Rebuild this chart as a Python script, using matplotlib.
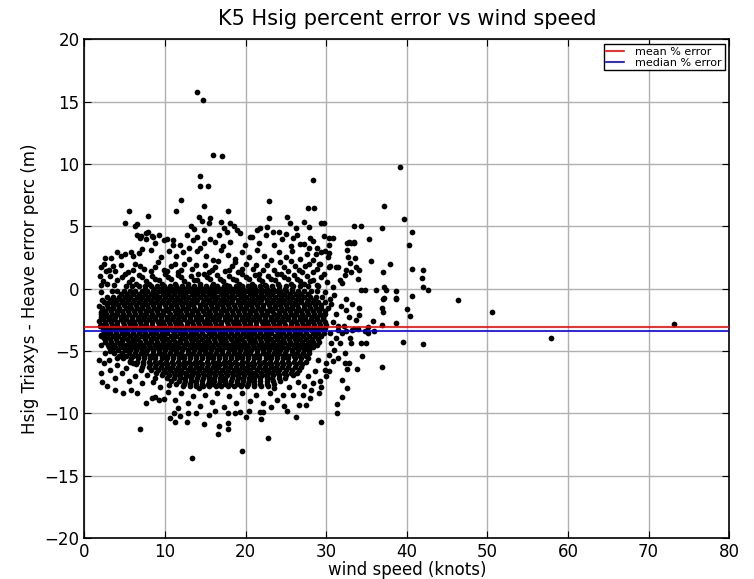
import matplotlib
matplotlib.use("Agg")
import matplotlib.pyplot as plt
import numpy as np

# summary lines
mean_err = -3.1
median_err = -3.4

# dense body of the cloud: one row per error level, wind speeds listed per row
core_rows = [
    (0.25, "5.1 5.9 6.8 7.5 8.3 9.0 9.9 10.6 11.3 12.1 12.8 13.6 14.3 15.1 15.8 16.5 17.3 18.0 18.8 19.5 20.3 21.0 21.8 22.5 23.3 24.2 25.0 25.9 26.8 27.7"),
    (0.0, "7.5 8.6 9.5 10.3 11.0 11.8 12.5 13.2 13.9 14.6 15.4 16.1 16.8 17.5 18.3 19.0 19.7 20.5 21.2 21.9 22.7 23.4 24.1 24.9 25.7"),
    (-0.2, "3.4 4.1 4.9 5.6 6.3 7.1 7.8 8.5 9.2 9.9 10.7 11.4 12.1 12.8 13.5 14.2 15.0 15.7 16.4 17.1 17.8 18.5 19.3 20.0 20.7 21.4 22.1 22.9 23.6 24.3 25.0 25.8 26.5 27.3 28.1 28.9"),
    (-0.45, "4.5 5.3 6.0 6.8 7.5 8.2 8.9 9.7 10.4 11.1 11.8 12.5 13.3 14.0 14.7 15.4 16.1 16.9 17.6 18.3 19.0 19.7 20.5 21.2 21.9 22.6 23.3 24.1 24.8 25.5 26.2 26.9 27.7"),
    (-0.65, "2.8 3.5 4.3 5.0 5.7 6.5 7.2 7.9 8.6 9.3 10.0 10.8 11.5 12.2 12.9 13.6 14.3 15.1 15.8 16.5 17.2 17.9 18.6 19.4 20.1 20.8 21.5 22.2 22.9 23.7 24.4 25.1 25.8 26.5 27.2 28.0 28.7 29.5"),
    (-0.9, "3.3 4.0 4.7 5.4 6.2 6.9 7.6 8.3 9.0 9.7 10.5 11.2 11.9 12.6 13.3 14.0 14.8 15.5 16.2 16.9 17.6 18.3 19.1 19.8 20.5 21.2 21.9 22.6 23.4 24.1 24.8 25.5 26.2 26.9 27.7 28.5"),
    (-1.1, "2.4 3.1 3.8 4.6 5.3 6.0 6.8 7.5 8.2 8.9 9.6 10.4 11.1 11.8 12.5 13.2 13.9 14.7 15.4 16.1 16.8 17.5 18.2 19.0 19.7 20.4 21.1 21.8 22.6 23.3 24.0 24.7 25.4 26.1 26.9 27.6 28.3 29.0 29.8"),
    (-1.35, "2.8 3.5 4.2 4.9 5.7 6.4 7.1 7.8 8.5 9.2 10.0 10.7 11.4 12.1 12.8 13.5 14.3 15.0 15.7 16.4 17.1 17.8 18.6 19.3 20.0 20.7 21.4 22.1 22.9 23.6 24.3 25.0 25.7 26.4 27.2 27.9 28.6 29.3"),
    (-1.55, "2.2 2.9 3.6 4.3 5.1 5.8 6.5 7.2 7.9 8.6 9.3 10.1 10.8 11.5 12.2 12.9 13.6 14.4 15.1 15.8 16.5 17.2 17.9 18.7 19.4 20.1 20.8 21.5 22.2 23.0 23.7 24.4 25.1 25.8 26.5 27.3 28.0 28.7 29.4 30.2"),
    (-1.8, "2.6 3.3 4.0 4.7 5.4 6.1 6.9 7.6 8.3 9.0 9.7 10.4 11.2 11.9 12.6 13.3 14.0 14.7 15.5 16.2 16.9 17.6 18.3 19.0 19.8 20.5 21.2 21.9 22.6 23.3 24.1 24.8 25.5 26.2 26.9 27.6 28.4 29.1 29.8"),
    (-2.0, "2.0 2.7 3.4 4.1 4.8 5.5 6.3 7.0 7.7 8.4 9.1 9.8 10.6 11.3 12.0 12.7 13.4 14.1 14.9 15.6 16.3 17.0 17.7 18.4 19.2 19.9 20.6 21.3 22.0 22.7 23.5 24.2 24.9 25.6 26.3 27.0 27.8 28.5 29.2 29.9"),
    (-2.25, "2.4 3.1 3.8 4.5 5.2 5.9 6.7 7.4 8.1 8.8 9.5 10.2 11.0 11.7 12.4 13.1 13.8 14.5 15.3 16.0 16.7 17.4 18.1 18.8 19.6 20.3 21.0 21.7 22.4 23.1 23.9 24.6 25.3 26.0 26.7 27.4 28.2 28.9 29.6"),
    (-2.45, "2.3 3.0 3.7 4.5 5.2 5.9 6.6 7.3 8.0 8.8 9.5 10.2 10.9 11.6 12.3 13.1 13.8 14.5 15.2 15.9 16.6 17.4 18.1 18.8 19.5 20.2 20.9 21.7 22.4 23.1 23.8 24.5 25.2 26.0 26.7 27.4 28.1 28.8 29.6"),
    (-2.7, "2.6 3.3 4.1 4.8 5.5 6.2 6.9 7.6 8.4 9.1 9.8 10.5 11.2 11.9 12.7 13.4 14.1 14.8 15.5 16.2 17.0 17.7 18.4 19.1 19.8 20.5 21.3 22.0 22.7 23.4 24.1 24.8 25.6 26.3 27.0 27.7 28.4 29.1 29.8"),
    (-2.9, "2.0 2.7 3.4 4.1 4.9 5.6 6.3 7.0 7.7 8.4 9.2 9.9 10.6 11.3 12.0 12.7 13.5 14.2 14.9 15.6 16.3 17.0 17.8 18.5 19.2 19.9 20.6 21.3 22.1 22.8 23.5 24.2 24.9 25.6 26.4 27.1 27.8 28.5 29.2 30.0"),
    (-3.15, "2.6 3.3 4.0 4.7 5.4 6.1 6.9 7.6 8.3 9.0 9.7 10.4 11.2 11.9 12.6 13.3 14.0 14.7 15.5 16.2 16.9 17.6 18.3 19.0 19.8 20.5 21.2 21.9 22.6 23.3 24.1 24.8 25.5 26.2 26.9 27.6 28.4 29.1 29.8"),
    (-3.35, "2.3 3.0 3.8 4.5 5.2 5.9 6.6 7.3 8.1 8.8 9.5 10.2 10.9 11.6 12.4 13.1 13.8 14.5 15.2 15.9 16.7 17.4 18.1 18.8 19.5 20.2 21.0 21.7 22.4 23.1 23.8 24.5 25.3 26.0 26.7 27.4 28.1 28.8 29.6"),
    (-3.6, "2.5 3.2 3.9 4.6 5.3 6.0 6.8 7.5 8.2 8.9 9.6 10.3 11.1 11.8 12.5 13.2 13.9 14.6 15.4 16.1 16.8 17.5 18.2 18.9 19.7 20.4 21.1 21.8 22.5 23.2 24.0 24.7 25.4 26.1 26.8 27.5 28.3 29.0 29.7"),
    (-3.8, "2.1 2.8 3.5 4.2 4.9 5.6 6.4 7.1 7.8 8.5 9.2 9.9 10.7 11.4 12.1 12.8 13.5 14.2 15.0 15.7 16.4 17.1 17.8 18.5 19.3 20.0 20.7 21.4 22.1 22.8 23.6 24.3 25.0 25.7 26.4 27.1 27.9 28.6 29.3"),
    (-4.05, "2.5 3.2 3.9 4.6 5.3 6.0 6.7 7.5 8.2 8.9 9.6 10.3 11.0 11.8 12.5 13.2 13.9 14.6 15.3 16.1 16.8 17.5 18.2 18.9 19.6 20.4 21.1 21.8 22.5 23.2 23.9 24.7 25.4 26.1 26.8 27.5 28.2 29.0"),
    (-4.25, "2.5 3.3 4.0 4.7 5.5 6.2 6.9 7.6 8.3 9.0 9.8 10.5 11.2 11.9 12.6 13.3 14.1 14.8 15.5 16.2 16.9 17.6 18.4 19.1 19.8 20.5 21.2 21.9 22.7 23.4 24.1 24.8 25.5 26.2 27.0 27.7 28.4 29.1"),
    (-4.5, "2.9 3.6 4.4 5.1 5.8 6.5 7.2 8.0 8.7 9.4 10.1 10.8 11.5 12.3 13.0 13.7 14.4 15.1 15.8 16.6 17.3 18.0 18.7 19.4 20.1 20.9 21.6 22.3 23.0 23.7 24.4 25.2 25.9 26.6 27.3 28.0 28.8"),
    (-4.7, "3.0 3.8 4.6 5.3 6.0 6.7 7.4 8.1 8.9 9.6 10.3 11.0 11.7 12.4 13.2 13.9 14.6 15.3 16.0 16.7 17.5 18.2 18.9 19.6 20.3 21.0 21.8 22.5 23.2 23.9 24.6 25.3 26.1 26.8 27.5 28.3"),
    (-4.95, "3.4 4.2 5.0 5.7 6.4 7.1 7.8 8.5 9.3 10.0 10.7 11.4 12.1 12.8 13.6 14.3 15.0 15.7 16.4 17.1 17.9 18.6 19.3 20.0 20.7 21.4 22.2 22.9 23.6 24.3 25.0 25.7 26.5 27.2 27.9"),
    (-5.15, "3.7 4.6 5.5 6.3 7.0 7.7 8.5 9.2 9.9 10.6 11.3 12.0 12.8 13.5 14.2 14.9 15.6 16.3 17.1 17.8 18.5 19.2 19.9 20.6 21.4 22.1 22.8 23.5 24.2 24.9 25.7 26.4 27.1 27.9"),
    (-5.4, "4.3 5.1 6.0 6.7 7.4 8.1 8.8 9.6 10.3 11.0 11.7 12.4 13.1 13.9 14.6 15.3 16.0 16.7 17.4 18.2 18.9 19.6 20.3 21.0 21.7 22.5 23.2 23.9 24.6 25.3 26.0 26.8 27.5"),
    (-5.6, "4.8 5.8 6.7 7.4 8.1 8.8 9.6 10.3 11.0 11.7 12.4 13.1 13.9 14.6 15.3 16.0 16.7 17.4 18.2 18.9 19.6 20.3 21.0 21.7 22.5 23.2 23.9 24.6 25.3 26.1 26.9 27.7"),
    (-5.85, "5.6 6.5 7.3 8.0 8.7 9.4 10.1 10.9 11.6 12.3 13.0 13.7 14.4 15.2 15.9 16.6 17.3 18.0 18.7 19.5 20.2 20.9 21.6 22.3 23.0 23.8 24.5 25.2 26.0 26.8 27.5"),
    (-6.05, "6.4 7.3 8.1 8.9 9.6 10.3 11.0 11.8 12.5 13.2 13.9 14.6 15.3 16.1 16.8 17.5 18.2 18.9 19.6 20.4 21.1 21.8 22.5 23.2 23.9 24.7 25.4 26.2 27.0"),
    (-6.3, "7.2 8.0 8.7 9.5 10.2 10.9 11.6 12.3 13.1 13.8 14.5 15.2 15.9 16.6 17.4 18.1 18.8 19.5 20.2 20.9 21.7 22.4 23.1 23.8 24.5 25.3 26.1 26.9"),
    (-6.5, "8.3 9.1 9.9 10.6 11.3 12.0 12.8 13.5 14.2 14.9 15.6 16.3 17.1 17.8 18.5 19.2 19.9 20.6 21.4 22.1 22.8 23.5 24.2 25.0 25.8 26.6"),
    (-6.75, "8.9 9.7 10.4 11.1 11.8 12.5 13.3 14.0 14.7 15.4 16.1 16.8 17.6 18.3 19.0 19.7 20.4 21.1 21.9 22.6 23.3 24.0 24.8 25.6 26.4"),
    (-6.95, "9.6 10.5 11.2 11.9 12.7 13.4 14.1 14.8 15.5 16.2 17.0 17.7 18.4 19.1 19.8 20.5 21.3 22.0 22.7 23.4 24.2 25.0 25.9"),
    (-7.2, "10.2 11.1 11.8 12.5 13.2 14.0 14.7 15.4 16.1 16.8 17.5 18.3 19.0 19.7 20.4 21.1 21.8 22.6 23.3 24.1 24.9"),
    (-7.4, "10.8 11.7 12.5 13.2 13.9 14.6 15.4 16.1 16.8 17.5 18.2 18.9 19.7 20.4 21.1 21.8 22.6 23.4 24.3"),
    (-7.65, "11.4 12.3 13.1 13.8 14.6 15.3 16.0 16.7 17.4 18.1 18.9 19.6 20.3 21.0 21.8 22.6 23.5"),
    (-7.85, "12.2 13.1 13.9 14.7 15.5 16.3 17.0 17.8 18.6 19.4 20.2 21.0 21.9 22.8"),
]

# scattered points above the body (wind speed, % error)
upper_pts = [
    (2.3, 0.6), (3.2, 1.0), (4.1, 0.7), (5.0, 1.2), (5.9, 0.8), (6.8, 1.1), (7.6, 0.6), (8.4, 1.0),
    (9.2, 0.7), (10.0, 1.2), (10.8, 0.8), (11.6, 1.1), (12.4, 0.6), (13.2, 1.0), (14.0, 0.7), (14.8, 1.2),
    (15.6, 0.8), (16.4, 1.1), (17.2, 0.6), (18.0, 1.0), (18.8, 0.7), (19.6, 1.2), (20.4, 0.8), (21.2, 1.1),
    (22.0, 0.6), (22.8, 1.0), (23.6, 0.7), (24.4, 1.2), (25.2, 0.8), (26.0, 1.1), (26.8, 0.6), (27.6, 1.0),
    (28.4, 0.7), (29.3, 0.9), (30.1, 0.5), (29.0, 0.2), (29.8, -0.3), (30.5, -0.8),
    (2.8, 0.4), (3.7, 0.3), (4.6, 0.9), (5.5, 0.5), (6.4, 0.4), (7.2, 0.9), (8.0, 0.4), (8.8, 0.8),
    (9.6, 0.4), (10.4, 0.9), (11.2, 0.4), (12.0, 0.9), (12.8, 0.4), (13.6, 0.7), (14.4, 0.4), (15.2, 0.9),
    (16.0, 0.4), (16.8, 0.8), (17.6, 0.3), (18.4, 0.8), (19.2, 0.4), (20.0, 0.9), (20.8, 0.4), (21.6, 0.8),
    (22.4, 0.3), (23.2, 0.8), (24.0, 0.4), (24.8, 0.9), (25.6, 0.4), (26.4, 0.8), (27.2, 0.4), (28.0, 0.6),
    (28.8, 0.3),
    (2.1, 1.7), (3.0, 1.5), (4.5, 1.9), (5.4, 1.3), (6.3, 2.0), (7.4, 1.6), (8.2, 1.4), (9.1, 2.1),
    (9.9, 1.5), (10.7, 1.8), (11.6, 1.3), (12.4, 2.0), (13.3, 1.6), (14.1, 1.2), (14.9, 1.9), (15.8, 1.5),
    (16.6, 2.2), (17.4, 1.4), (18.3, 1.8), (19.1, 1.3), (20.0, 2.0), (20.9, 1.6), (21.7, 1.2), (22.6, 1.9),
    (23.5, 1.5), (24.3, 2.1), (25.2, 1.4), (26.1, 1.8), (27.0, 1.3), (27.9, 2.0), (28.8, 1.6), (29.7, 1.2),
    (30.5, 1.8),
    (3.8, 1.4), (6.0, 1.5), (6.9, 1.8), (8.7, 1.7), (10.3, 1.4), (11.2, 2.0), (12.0, 1.5), (13.8, 1.9),
    (15.4, 1.3), (16.2, 1.7), (17.9, 1.5), (18.7, 2.1), (19.6, 1.6), (21.3, 1.9), (22.1, 1.5), (23.9, 1.2),
    (24.8, 1.7), (25.6, 2.2), (26.6, 1.5), (27.4, 1.8), (28.3, 1.3), (29.2, 2.0),
    (2.5, 2.44), (3.25, 2.44), (4.07, 2.92), (5.72, 2.97), (6.75, 2.84), (7.16, 3.16), (8.2, 3.1), (9.5, 2.5),
    (10.5, 3.0), (11.3, 2.6), (12.2, 2.9), (13.0, 2.4), (14.0, 3.0), (15.1, 2.6), (16.0, 2.3), (16.9, 3.1),
    (17.8, 2.7), (18.7, 2.4), (19.6, 2.9), (20.4, 2.5), (21.4, 3.1), (22.3, 2.6), (23.2, 2.3), (24.1, 2.9),
    (25.0, 2.5), (25.8, 3.0), (26.7, 2.4), (27.6, 2.8), (28.4, 2.3), (29.3, 2.9), (30.2, 2.5),
    (4.5, 2.6), (5.0, 2.8), (6.0, 2.6),
    (7.7, 4.5), (8.4, 4.25), (7.0, 4.25), (7.7, 4.0), (8.8, 3.64), (9.85, 3.9), (10.26, 4.0), (11.0, 3.9),
    (11.0, 3.5), (11.9, 3.5), (12.95, 3.24), (12.7, 4.3), (14.0, 4.17), (14.8, 3.64), (14.3, 3.3),
    (16.25, 3.77), (16.7, 4.3), (17.7, 4.57), (18.1, 3.77), (19.35, 4.44), (21.6, 3.64), (14.8, 4.7),
    (23.5, 3.5), (24.5, 4.0), (25.6, 3.4), (26.4, 4.3), (27.2, 3.6), (28.0, 4.1), (28.8, 3.3), (22.5, 4.3),
    (19.9, 3.5), (17.2, 3.4), (15.6, 4.0), (13.5, 3.9), (9.3, 4.3), (6.9, 4.06), (6.46, 4.3), (7.9, 4.57),
    (8.5, 4.17), (20.5, 4.17), (21.75, 4.84), (22.6, 4.97), (23.4, 4.57), (24.2, 4.57), (26.3, 4.84),
    (27.9, 4.97), (25.05, 4.37), (25.9, 4.1), (26.7, 3.57), (27.9, 3.3), (28.3, 3.84), (28.7, 2.77),
    (29.9, 3.04), (29.1, 2.0), (30.3, 1.7),
]

# points on the right and lower edges of the body
edge_pts = [
    (30.8, 0.16), (31.7, 0.7), (31.9, 0.43), (32.3, 1.1), (31.45, 1.76), (32.5, 1.5), (33.1, 1.36),
    (33.7, 1.76), (34.1, 1.5), (33.9, 0.75), (32.9, 2.04), (33.6, 2.44), (32.7, 2.57), (32.6, 3.1),
    (32.6, 3.69), (33.1, 3.69), (33.5, 3.69), (30.4, 2.84), (30.3, 3.5), (30.4, 4.04), (30.9, 4.1),
    (31.2, 1.76), (34.3, -0.1), (34.8, -0.1), (36.2, -0.1), (37.4, -0.1), (38.7, -0.16), (37.15, -0.77),
    (38.6, -0.77), (32.5, -1.71), (34.1, -1.57), (34.1, -2.11), (33.7, -2.51), (35.8, -2.57),
    (35.2, -3.05), (34.8, -3.37), (35.2, -3.58), (36.95, -2.91), (34.3, -4.38), (35.0, -4.38),
    (34.5, -5.4), (33.8, -6.47), (32.6, -6.47), (32.8, -6.0), (32.3, -6.0), (32.0, -7.32), (32.6, -7.99),
    (32.0, -8.66), (31.3, -9.25), (31.3, -10.0), (29.4, -10.67), (31.7, -4.38), (32.3, -5.18),
    (31.45, -5.58), (31.0, -4.92), (30.4, -5.32), (31.9, -3.58), (32.9, -3.98), (33.1, -4.38),
    (31.25, -3.98), (30.6, -4.38), (30.0, -7.05), (29.8, -6.5), (30.0, -5.98), (29.4, -7.9),
    (29.1, -8.39), (28.15, -8.12), (27.1, -8.52), (25.9, -8.52), (24.6, -8.52), (30.6, -1.2),
    (31.2, -2.0), (30.8, -2.7), (31.5, -3.0), (30.5, -3.6), (31.8, -1.4), (32.8, -2.3), (33.5, -3.2),
    (32.2, -3.0), (31.0, -0.5), (32.4, -0.8), (33.2, -1.2), (30.4, -6.6), (29.2, -7.4), (28.4, -7.6),
    (27.8, -7.0), (28.6, -6.6), (29.0, -5.7), (30.8, -5.8), (28.0, -8.8), (27.5, -9.3), (31.5, -3.3),
    (32.4, -3.4), (33.2, -3.3), (34.0, -3.2), (35.9, -3.4),
    (26.2, -10.3), (25.1, -9.8), (23.2, -9.5), (21.95, -10.5), (22.1, -9.9), (16.6, -11.7), (16.7, -11.0),
    (17.8, -11.3), (17.8, -10.8), (17.8, -10.0), (14.8, -10.9), (12.7, -10.7), (11.8, -10.2),
    (11.2, -10.7), (10.6, -10.35), (11.1, -10.0), (12.8, -9.94), (15.4, -10.1), (18.7, -9.94),
    (19.35, -9.9), (20.4, -9.8), (21.8, -9.87), (26.6, -9.33), (7.58, -9.14), (8.4, -8.74),
    (8.8, -8.66), (9.2, -8.93), (9.85, -8.87), (4.77, -8.39), (5.72, -8.12), (6.54, -8.39),
    (3.74, -8.12), (2.83, -7.8), (2.2, -7.46), (2.0, -6.79), (1.8, -5.72), (2.4, -5.98), (2.0, -4.51),
    (2.08, -3.71), (2.0, -2.24), (1.8, -1.39),
    (10.4, -8.3), (11.2, -8.9), (12.0, -8.4), (12.8, -9.2), (13.5, -8.6), (14.3, -9.4), (15.0, -8.5),
    (15.8, -9.1), (16.5, -8.4), (17.3, -9.5), (18.0, -8.6), (18.8, -9.2), (19.6, -8.4), (20.5, -9.0),
    (21.3, -8.5), (22.2, -9.2), (23.0, -8.4), (23.9, -8.9), (24.8, -9.4), (11.6, -9.6), (13.9, -10.0),
    (16.2, -9.8), (20.0, -10.3), (14.2, -8.0), (23.5, -8.0), (25.4, -7.9), (26.5, -7.5), (27.2, -7.8),
    (10.5, -7.7), (9.4, -7.9), (8.5, -7.5), (7.8, -6.9), (8.8, -7.2), (7.2, -7.6), (6.3, -7.0),
    (5.5, -7.4), (4.7, -6.8), (3.8, -7.2), (3.2, -6.5), (4.1, -6.1), (5.2, -6.4), (6.0, -6.0),
    (5.6, -5.8), (3.0, -5.7), (2.5, -5.2), (3.2, -5.0), (2.4, -4.0), (4.0, -5.6), (7.0, -6.5),
    (1.9, -3.0), (1.8, -2.6), (2.0, -0.3), (2.1, 0.3), (1.9, 1.0), (2.0, -1.9), (2.2, -0.9),
    (2.7, 1.4), (3.6, 1.8), (2.4, 2.0),
]

# isolated outliers
outlier_pts = [
    (14.0, 15.75), (14.7, 15.1), (15.97, 10.75), (17.1, 10.67), (14.4, 9.0), (14.3, 8.2), (15.3, 8.2),
    (28.35, 8.75), (11.96, 7.09), (11.3, 6.23), (5.55, 6.23), (7.87, 5.86), (5.0, 5.3), (6.26, 5.05),
    (6.5, 5.16), (14.8, 6.6), (17.8, 6.26), (22.95, 7.0), (22.95, 5.7), (27.8, 6.45), (28.5, 6.5),
    (13.2, 5.03), (13.6, 4.76), (14.2, 5.77), (14.6, 5.45), (15.6, 5.64), (15.4, 5.24), (16.9, 5.37),
    (17.3, 4.84), (18.1, 5.3), (18.5, 5.03), (18.9, 4.7), (25.1, 5.77), (25.5, 5.3), (27.3, 5.37),
    (29.4, 5.24), (29.7, 5.3), (21.4, 4.7), (20.8, 4.17),
    (39.1, 9.73), (37.15, 6.6), (39.7, 5.56), (40.6, 4.57), (40.25, 3.5), (37.9, 2.0), (40.6, 1.58),
    (42.0, 1.5), (41.9, 0.83), (42.0, 0.14), (42.6, -0.1), (40.6, -0.59), (46.4, -0.93), (38.6, -0.85),
    (40.0, -1.65), (40.4, -2.16), (50.6, -1.84), (38.6, -2.75), (73.1, -2.83), (57.9, -3.93),
    (39.5, -4.25), (42.0, -4.41), (36.9, -6.25), (37.0, 1.34), (37.15, 0.16), (36.9, 4.9), (35.3, 4.0),
    (35.6, 2.25), (33.4, 5.0), (34.3, 5.0), (32.8, 3.75), (33.4, 3.75), (29.7, 4.2), (36.9, -1.57),
    (37.1, -1.84), (37.1, -0.85),
    (6.84, -11.25), (13.36, -13.6), (19.5, -13.0), (22.8, -12.0),
]

wind = []
err = []
for yv, row in core_rows:
    xs = [float(v) for v in row.split()]
    wind.extend(xs)
    err.extend([yv] * len(xs))
for pts in (upper_pts, edge_pts, outlier_pts):
    wind.extend(p[0] for p in pts)
    err.extend(p[1] for p in pts)
wind = np.array(wind)
err = np.array(err)

fig = plt.figure(figsize=(7.54, 5.79), dpi=100)
ax = fig.add_axes([0.112, 0.071, 0.855, 0.861])

ax.scatter(wind, err, s=17, c='black', linewidths=0, zorder=3)
ax.axhline(mean_err, color='red', lw=1.2, label='mean % error', zorder=4)
ax.axhline(median_err, color='blue', lw=1.2, label='median % error', zorder=4)

ax.set_xlim(0, 80)
ax.set_ylim(-20, 20)
ax.set_xticks(np.arange(0, 81, 10))
ax.set_yticks(np.arange(-20, 21, 5))
ax.grid(True, color='#b0b0b0', lw=1, zorder=0)
ax.set_axisbelow(True)
ax.tick_params(direction='in', top=True, right=True, length=5, labelsize=12)
for sp in ax.spines.values():
    sp.set_linewidth(1.2)

ax.set_title('K5 Hsig percent error vs wind speed', fontsize=15, pad=10)
ax.set_xlabel('wind speed (knots)', fontsize=12, labelpad=0)
ax.set_ylabel('Hsig Triaxys - Heave error perc (m)', fontsize=12)

leg = ax.legend(loc='upper right', fontsize=8, fancybox=False, framealpha=1,
                edgecolor='black', borderaxespad=0.4, borderpad=0.25,
                labelspacing=0.1, handlelength=1.6, handletextpad=1.0)
leg.get_frame().set_linewidth(1.0)

fig.savefig('out.png', dpi=100)
